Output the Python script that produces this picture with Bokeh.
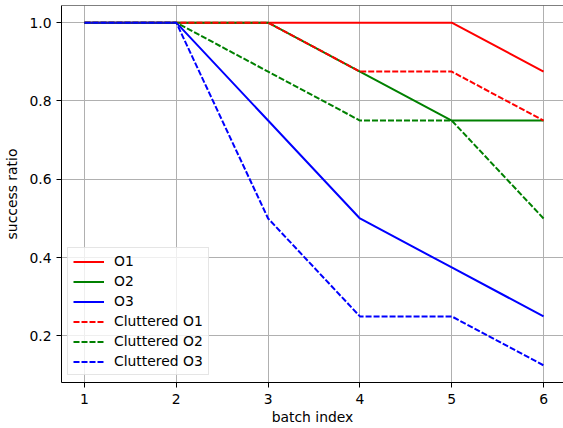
from bokeh.plotting import figure
from bokeh.models import Range1d, Legend, LegendItem, Span, FixedTicker
from bokeh.embed import file_html
from bokeh.resources import INLINE

batch = [1, 2, 3, 4, 5, 6]
o1 = [1.0, 1.0, 1.0, 1.0, 1.0, 0.875]
o2 = [1.0, 1.0, 1.0, 0.875, 0.75, 0.75]
o3 = [1.0, 1.0, 0.75, 0.5, 0.375, 0.25]
c_o1 = [1.0, 1.0, 1.0, 0.875, 0.875, 0.75]
c_o2 = [1.0, 1.0, 0.875, 0.75, 0.75, 0.5]
c_o3 = [1.0, 1.0, 0.5, 0.25, 0.25, 0.125]
names = ["O1", "O2", "O3", "Cluttered O1", "Cluttered O2", "Cluttered O3"]
x_ticks = [1, 2, 3, 4, 5, 6]
y_ticks = [0.2, 0.4, 0.6, 0.8, 1.0]

FONT = "DejaVu Sans"
FS = "13.9px"
Y_TOP = 1.04375

p = figure(width=563, height=428, output_backend="svg", toolbar_location=None,
           x_range=Range1d(0.75, 6.217), y_range=Range1d(0.08125, Y_TOP),
           min_border_left=61, min_border_right=0, min_border_top=5, min_border_bottom=46)
p.background_fill_color = "white"
p.border_fill_color = "white"
p.outline_line_color = None

series = [(o1, "#ff0000", "solid"), (o2, "#008000", "solid"), (o3, "#0000ff", "solid"),
          (c_o1, "#ff0000", "6 2"), (c_o2, "#008000", "6 2"), (c_o3, "#0000ff", "6 2")]
items = []
for (ys, col, dash), nm in zip(series, names):
    r = p.line(batch, ys, line_color=col, line_width=2, line_dash=dash)
    items.append(LegendItem(label=nm, renderers=[r]))

for ax in (p.xaxis[0], p.yaxis[0]):
    ax.axis_line_color = "black"
    ax.axis_line_width = 1
    ax.major_tick_line_color = "black"
    ax.major_tick_out = 5
    ax.major_tick_in = 0
    ax.minor_tick_line_color = None
    ax.major_label_text_font = FONT
    ax.major_label_text_font_size = FS
    ax.major_label_text_color = "black"
    ax.axis_label_text_font = FONT
    ax.axis_label_text_font_size = FS
    ax.axis_label_text_font_style = "normal"
    ax.axis_label_text_color = "black"

p.xaxis.ticker = FixedTicker(ticks=x_ticks)
p.yaxis.ticker = FixedTicker(ticks=y_ticks)
p.xaxis.major_label_overrides = {t: str(t) for t in x_ticks}
p.yaxis.major_label_overrides = {t: f"{t:.1f}" for t in y_ticks}
p.xaxis.axis_label = "batch index"
p.yaxis.axis_label = "success ratio"
p.xaxis.major_label_standoff = 6
p.xaxis.axis_label_standoff = 2
p.yaxis.major_label_standoff = 5
p.yaxis.axis_label_standoff = 6

p.grid.grid_line_color = "#b0b0b0"
p.grid.grid_line_width = 1

p.add_layout(Span(location=Y_TOP, dimension="width", line_color="black", line_width=1))

legend = Legend(items=items, location=(6, 7))
legend.label_text_font = FONT
legend.label_text_font_size = FS
legend.label_text_color = "black"
legend.glyph_width = 31
legend.glyph_height = 15
legend.label_height = 15
legend.spacing = 4
legend.padding = 5
legend.margin = 0
legend.label_standoff = 10
legend.border_line_color = "#cccccc"
legend.background_fill_alpha = 0.8
p.add_layout(legend)

open("out.html", "w").write(file_html(p, INLINE))
